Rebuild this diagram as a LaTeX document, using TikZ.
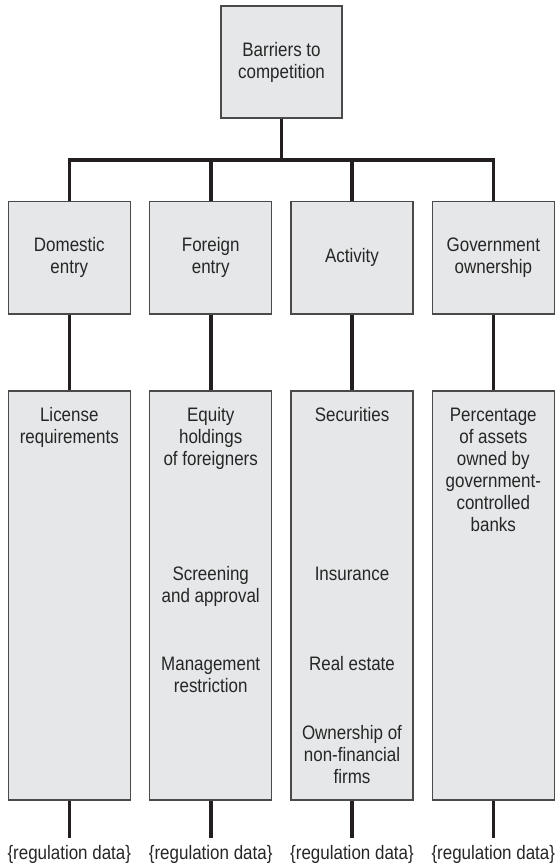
\documentclass[tikz,border=0pt]{standalone}
\usepackage{fontspec}
\setmainfont{Liberation Sans}[FakeStretch=0.87]
\begin{document}
\begin{tikzpicture}[x=1pt,y=-1pt,
  every node/.style={text=txtc, font=\fontsize{19.5}{22}\selectfont},
  box/.style={draw=boxline, fill=boxfill, line width=1.2pt, inner sep=0pt, align=center},
  lvltop/.style={box, minimum width=121pt, minimum height=112pt},
  lvltwo/.style={box, minimum width=122pt, minimum height=112.3pt},
  lvlthree/.style={draw=boxline, fill=boxfill, line width=1.2pt, inner sep=0pt, minimum width=122pt, minimum height=409pt},
  lbl/.style={align=center, anchor=base, inner sep=0pt},
  bottomlbl/.style={anchor=base, inner xsep=0pt, inner ysep=7pt},
  conn/.style={line width=3.6pt, draw=linec}
]
\definecolor{txtc}{HTML}{262626}
\definecolor{boxline}{HTML}{4A4A4A}
\definecolor{boxfill}{HTML}{E6E7E8}
\definecolor{linec}{HTML}{231F20}
\useasboundingbox (0,0) rectangle (558,864);

% top
\node[lvltop] (top) at (281.5,62) {Barriers to\\competition};

% level two
\node[lvltwo] (dom) at (69.3,257.9) {Domestic\\entry};
\node[lvltwo] (for) at (210.7,257.9) {Foreign\\entry};
\node[lvltwo] (act) at (352,257.9) {Activity};
\node[lvltwo] (gov) at (493.3,257.9) {Government\\ownership};

% level three
\node[lvlthree] (lic) at (69.3,595.5) {};
\node[lvlthree] (fin) at (210.7,595.5) {};
\node[lvlthree] (acs) at (352,595.5) {};
\node[lvlthree] (gvs) at (493.3,595.5) {};

% texts inside level three (anchored at the baseline of the last line)
\node[lbl] (t1) at (69.3,443) {License\\requirements};
\node[lbl] (t2a) at (210.7,465) {Equity\\holdings\\of foreigners};
\node[lbl] (t2b) at (210.7,602.5) {Screening\\and approval};
\node[lbl] (t2c) at (210.7,692.5) {Management\\restriction};
\node[lbl] (t3a) at (352,421) {Securities};
\node[lbl] (t3b) at (352,580.5) {Insurance};
\node[lbl] (t3c) at (352,670.5) {Real estate};
\node[lbl] (t3d) at (352,783.5) {Ownership of\\non-financial\\firms};
\node[lbl] (t4) at (493.3,531) {Percentage\\of assets\\owned by\\government-\\controlled\\banks};

% bottom labels
\node[bottomlbl] (r1) at (69.3,859) {\{regulation data\}};
\node[bottomlbl] (r2) at (210.7,859) {\{regulation data\}};
\node[bottomlbl] (r3) at (352,859) {\{regulation data\}};
\node[bottomlbl] (r4) at (493.3,859) {\{regulation data\}};

% connectors
\coordinate (bar) at (281.5,160);
\draw[conn] (top.south) -- (bar);
\draw[conn] (dom.north) |- (bar) -| (gov.north);
\draw[conn] (for.north) -- (for.north |- bar);
\draw[conn] (act.north) -- (act.north |- bar);

\draw[conn] (dom.south) -- (lic.north);
\draw[conn] (for.south) -- (fin.north);
\draw[conn] (act.south) -- (acs.north);
\draw[conn] (gov.south) -- (gvs.north);

\draw[conn] (lic.south) -- (r1.north);
\draw[conn] (fin.south) -- (r2.north);
\draw[conn] (acs.south) -- (r3.north);
\draw[conn] (gvs.south) -- (r4.north);
\end{tikzpicture}
\end{document}
